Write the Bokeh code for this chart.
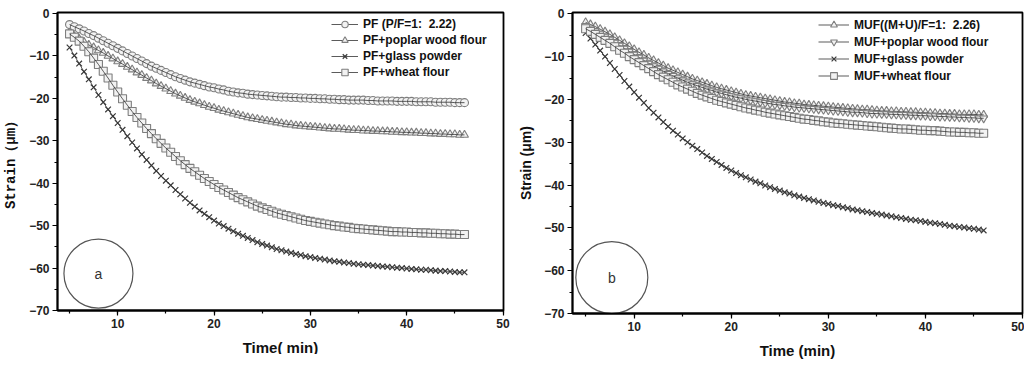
import numpy as np
from bokeh.plotting import figure
from bokeh.layouts import row
from bokeh.models import Legend, LegendItem, SingleIntervalTicker, Range1d, Label
from bokeh.embed import file_html
from bokeh.resources import INLINE

# time axis (min), sampled every 0.5 min from 5 to 46
time = list(np.arange(5.0, 46.01, 0.5))

# ---- panel a : PF series (strain, um) ----
pf_pure = [
    -2.6, -3.1, -3.6, -4.1, -4.7, -5.2, -5.8, -6.4, -7.0, -7.6,
    -8.2, -8.8, -9.4, -10.0, -10.6, -11.2, -11.8, -12.4, -12.9, -13.4,
    -13.9, -14.4, -14.9, -15.3, -15.7, -16.1, -16.4, -16.7, -17.0, -17.3,
    -17.5, -17.8, -18.0, -18.3, -18.5, -18.7, -18.8, -19.0, -19.1, -19.2,
    -19.3, -19.4, -19.5, -19.6, -19.7, -19.7, -19.8, -19.8, -19.9, -19.9,
    -20.0, -20.0, -20.1, -20.1, -20.2, -20.2, -20.3, -20.3, -20.4, -20.4,
    -20.4, -20.4, -20.5, -20.5, -20.6, -20.6, -20.6, -20.6, -20.7, -20.7,
    -20.7, -20.7, -20.8, -20.8, -20.8, -20.8, -20.9, -20.9, -20.9, -20.9,
    -21.0, -21.0, -21.0]
pf_poplar = [
    -4.5, -5.3, -6.0, -6.7, -7.4, -8.0, -8.7, -9.3, -10.0, -10.6,
    -11.3, -11.9, -12.6, -13.2, -13.9, -14.5, -15.2, -15.8, -16.5, -17.1,
    -17.7, -18.3, -18.9, -19.4, -19.9, -20.4, -20.8, -21.2, -21.6, -22.0,
    -22.3, -22.7, -23.0, -23.3, -23.6, -23.9, -24.2, -24.5, -24.7, -24.9,
    -25.1, -25.3, -25.5, -25.7, -25.9, -26.1, -26.2, -26.4, -26.5, -26.6,
    -26.7, -26.8, -26.9, -27.0, -27.1, -27.2, -27.2, -27.3, -27.4, -27.5,
    -27.5, -27.6, -27.6, -27.7, -27.7, -27.8, -27.8, -27.9, -27.9, -28.0,
    -28.0, -28.1, -28.1, -28.2, -28.2, -28.3, -28.3, -28.4, -28.4, -28.5,
    -28.5, -28.6, -28.6]
pf_glass = [
    -8.0, -9.9, -11.8, -13.7, -15.5, -17.4, -19.2, -20.9, -22.6, -24.2,
    -25.8, -27.4, -28.9, -30.4, -31.8, -33.2, -34.5, -35.8, -37.1, -38.3,
    -39.4, -40.5, -41.6, -42.6, -43.6, -44.6, -45.5, -46.4, -47.2, -48.0,
    -48.8, -49.5, -50.1, -50.7, -51.3, -51.9, -52.4, -52.9, -53.4, -53.9,
    -54.3, -54.7, -55.1, -55.5, -55.8, -56.1, -56.4, -56.7, -56.9, -57.2,
    -57.4, -57.6, -57.8, -58.0, -58.2, -58.4, -58.5, -58.7, -58.8, -59.0,
    -59.1, -59.2, -59.3, -59.4, -59.5, -59.6, -59.7, -59.8, -59.9, -60.0,
    -60.1, -60.2, -60.3, -60.4, -60.4, -60.5, -60.6, -60.7, -60.7, -60.8,
    -60.9, -61.0, -61.0]
pf_wheat = [
    -4.8, -5.6, -6.5, -7.7, -9.0, -10.5, -12.0, -13.6, -15.2, -16.9,
    -18.5, -20.1, -21.6, -23.1, -24.5, -25.8, -27.1, -28.3, -29.5, -30.6,
    -31.7, -32.7, -33.7, -34.7, -35.6, -36.5, -37.3, -38.1, -38.9, -39.6,
    -40.3, -41.0, -41.6, -42.2, -42.8, -43.4, -43.9, -44.4, -44.9, -45.4,
    -45.8, -46.2, -46.6, -47.0, -47.3, -47.6, -47.9, -48.2, -48.5, -48.8,
    -49.0, -49.2, -49.4, -49.6, -49.8, -50.0, -50.1, -50.3, -50.4, -50.6,
    -50.7, -50.8, -50.9, -51.0, -51.1, -51.2, -51.3, -51.4, -51.4, -51.5,
    -51.5, -51.6, -51.6, -51.7, -51.7, -51.8, -51.8, -51.9, -51.9, -52.0,
    -52.0, -52.1, -52.1]

# ---- panel b : MUF series (strain, um) ----
muf_pure = [
    -2.0, -2.5, -3.0, -3.6, -4.2, -4.8, -5.5, -6.2, -6.9, -7.6,
    -8.3, -9.0, -9.6, -10.3, -10.9, -11.5, -12.1, -12.7, -13.2, -13.7,
    -14.2, -14.7, -15.2, -15.6, -16.0, -16.4, -16.8, -17.2, -17.5, -17.8,
    -18.1, -18.4, -18.7, -19.0, -19.2, -19.4, -19.6, -19.8, -20.0, -20.2,
    -20.4, -20.6, -20.7, -20.9, -21.0, -21.2, -21.3, -21.4, -21.5, -21.6,
    -21.7, -21.8, -21.9, -22.0, -22.1, -22.2, -22.3, -22.4, -22.4, -22.5,
    -22.6, -22.7, -22.7, -22.8, -22.8, -22.9, -22.9, -23.0, -23.0, -23.1,
    -23.1, -23.2, -23.2, -23.3, -23.3, -23.4, -23.4, -23.5, -23.5, -23.5,
    -23.5, -23.6, -23.6]
muf_poplar = [
    -2.8, -3.4, -4.0, -4.6, -5.3, -6.0, -6.7, -7.4, -8.1, -8.8,
    -9.5, -10.2, -10.9, -11.6, -12.2, -12.8, -13.4, -14.0, -14.5, -15.0,
    -15.5, -16.0, -16.4, -16.8, -17.2, -17.6, -17.9, -18.3, -18.6, -18.9,
    -19.2, -19.5, -19.7, -20.0, -20.2, -20.4, -20.6, -20.8, -21.0, -21.2,
    -21.3, -21.5, -21.6, -21.8, -21.9, -22.0, -22.1, -22.2, -22.3, -22.4,
    -22.5, -22.6, -22.7, -22.8, -22.9, -23.0, -23.0, -23.1, -23.2, -23.3,
    -23.3, -23.4, -23.4, -23.5, -23.5, -23.6, -23.6, -23.7, -23.7, -23.8,
    -23.8, -23.9, -23.9, -24.0, -24.0, -24.1, -24.1, -24.2, -24.2, -24.3,
    -24.3, -24.4, -24.4]
muf_glass = [
    -4.5, -5.8, -7.2, -8.6, -10.0, -11.5, -12.9, -14.3, -15.7, -17.0,
    -18.3, -19.6, -20.8, -22.0, -23.1, -24.2, -25.3, -26.3, -27.3, -28.2,
    -29.1, -30.0, -30.8, -31.6, -32.4, -33.2, -33.9, -34.6, -35.3, -36.0,
    -36.6, -37.2, -37.7, -38.2, -38.7, -39.2, -39.6, -40.1, -40.5, -40.9,
    -41.3, -41.7, -42.0, -42.4, -42.7, -43.0, -43.3, -43.6, -43.9, -44.2,
    -44.4, -44.7, -44.9, -45.2, -45.4, -45.7, -45.9, -46.1, -46.3, -46.5,
    -46.7, -46.9, -47.1, -47.3, -47.5, -47.7, -47.9, -48.1, -48.2, -48.4,
    -48.6, -48.8, -48.9, -49.1, -49.3, -49.5, -49.6, -49.8, -49.9, -50.1,
    -50.2, -50.4, -50.6]
muf_wheat = [
    -3.5, -4.1, -4.8, -5.5, -6.2, -6.9, -7.7, -8.5, -9.2, -10.0,
    -10.7, -11.4, -12.1, -12.8, -13.5, -14.2, -14.8, -15.4, -16.0, -16.6,
    -17.1, -17.6, -18.1, -18.6, -19.0, -19.4, -19.8, -20.2, -20.5, -20.8,
    -21.1, -21.4, -21.7, -22.0, -22.2, -22.5, -22.7, -23.0, -23.2, -23.4,
    -23.6, -23.8, -24.0, -24.2, -24.4, -24.6, -24.7, -24.9, -25.0, -25.2,
    -25.3, -25.5, -25.6, -25.7, -25.8, -25.9, -26.0, -26.1, -26.2, -26.3,
    -26.4, -26.5, -26.6, -26.7, -26.8, -26.9, -26.9, -27.0, -27.1, -27.2,
    -27.2, -27.3, -27.3, -27.4, -27.5, -27.6, -27.6, -27.7, -27.7, -27.8,
    -27.8, -27.9, -27.9]

labels_a = ["PF (P/F=1:  2.22)", "PF+poplar wood flour", "PF+glass powder", "PF+wheat flour"]
labels_b = ["MUF((M+U)/F=1:  2.26)", "MUF+poplar wood flour", "MUF+glass powder", "MUF+wheat flour"]
markers_a = ["circle", "triangle", "x", "square"]
markers_b = ["triangle", "inverted_triangle", "x", "square"]
series_a = [pf_pure, pf_poplar, pf_glass, pf_wheat]
series_b = [muf_pure, muf_poplar, muf_glass, muf_wheat]

x_ticks = [10, 20, 30, 40, 50]


def make_panel(series, labels, markers, xlabel, ylabel, ylabel_font, letter, letter_pos,
               xr, yr, fw, fh, bl, br, bt, bb, leg_loc, glyph_w, label_h):
    p = figure(output_backend="svg", toolbar_location=None,
               frame_width=fw, frame_height=fh,
               min_border_left=bl, min_border_right=br,
               min_border_top=bt, min_border_bottom=bb,
               x_range=Range1d(*xr), y_range=Range1d(*yr))
    p.background_fill_color = "white"
    p.border_fill_color = "white"
    p.grid.visible = False
    p.outline_line_color = "black"
    p.outline_line_width = 1.8

    p.xaxis.ticker = SingleIntervalTicker(interval=10, num_minor_ticks=2)
    p.yaxis.ticker = SingleIntervalTicker(interval=10, num_minor_ticks=2)
    for ax in (p.xaxis[0], p.yaxis[0]):
        ax.axis_line_width = 1.8
        ax.axis_line_color = "black"
        ax.major_tick_in = 0
        ax.major_tick_out = 5
        ax.minor_tick_in = 0
        ax.minor_tick_out = 3
        ax.major_tick_line_width = 1.2
        ax.minor_tick_line_width = 1.2
        ax.major_label_text_font = "Liberation Sans"
        ax.major_label_text_font_style = "bold"
        ax.major_label_text_font_size = "12px"
        ax.major_label_text_color = "#222222"
        ax.major_label_standoff = 3
        ax.axis_label_text_font_style = "bold"
        ax.axis_label_text_color = "#111111"
    p.xaxis.major_label_overrides = {t: str(t) for t in x_ticks}
    p.xaxis[0].axis_label = xlabel
    p.xaxis[0].axis_label_text_font = "Liberation Sans"
    p.xaxis[0].axis_label_text_font_size = "15px"
    p.xaxis[0].axis_label_standoff = 8
    p.yaxis[0].axis_label = ylabel
    p.yaxis[0].axis_label_text_font = ylabel_font
    p.yaxis[0].axis_label_text_font_size = "14px"
    p.yaxis[0].axis_label_standoff = 7

    items = []
    for ys, lab, mk in zip(series, labels, markers):
        if mk == "x":
            sc = p.scatter(time, ys, marker="x", size=8, line_color="#3a3a3a", line_width=1.2)
        else:
            sc = p.scatter(time, ys, marker=mk, size=8, line_color="#7e7e7e",
                           fill_color="#f2f2f2", line_width=1.1)
        ln = p.line(time, ys, line_color="#333333", line_width=1, line_alpha=0.8)
        items.append(LegendItem(label=lab, renderers=[ln, sc]))

    leg = Legend(items=items, location=leg_loc)
    leg.border_line_color = None
    leg.background_fill_alpha = 0
    leg.label_text_font = "Liberation Sans"
    leg.label_text_font_style = "bold"
    leg.label_text_font_size = "12px"
    leg.label_text_color = "#111111"
    leg.glyph_width = glyph_w
    leg.glyph_height = label_h
    leg.label_height = label_h
    leg.label_standoff = 5
    leg.spacing = 0
    leg.padding = 2
    leg.margin = 0
    p.add_layout(leg)

    # circled panel letter
    p.scatter([letter_pos[0]], [letter_pos[1]], marker="circle", size=letter_pos[2],
              fill_color="white", line_color="#555555", line_width=1.2)
    p.add_layout(Label(x=letter_pos[0], y=letter_pos[1], text=letter, text_align="center",
                       text_baseline="middle", text_font_size="14px", text_color="#333333",
                       text_font="Liberation Sans"))
    return p


pa = make_panel(series_a, labels_a, markers_a, "Time( min)", "Strain（μm）", "Liberation Mono",
                "a", (8.0, -61.3, 69), (3.75, 50.05), (-70, 0.25),
                446, 298, 53, 8, 6, 50, (274, 230), 27, 16)
pb = make_panel(series_b, labels_b, markers_b, "Time (min)", "Strain (μm)", "Liberation Sans",
                "b", (7.7, -61.6, 72), (3.65, 50.0), (-70, 0.3),
                450, 301, 61, 2, 12, 45, (246, 229), 31, 17)

layout = row(pa, pb)
open("out.html", "w").write(file_html(layout, INLINE))
